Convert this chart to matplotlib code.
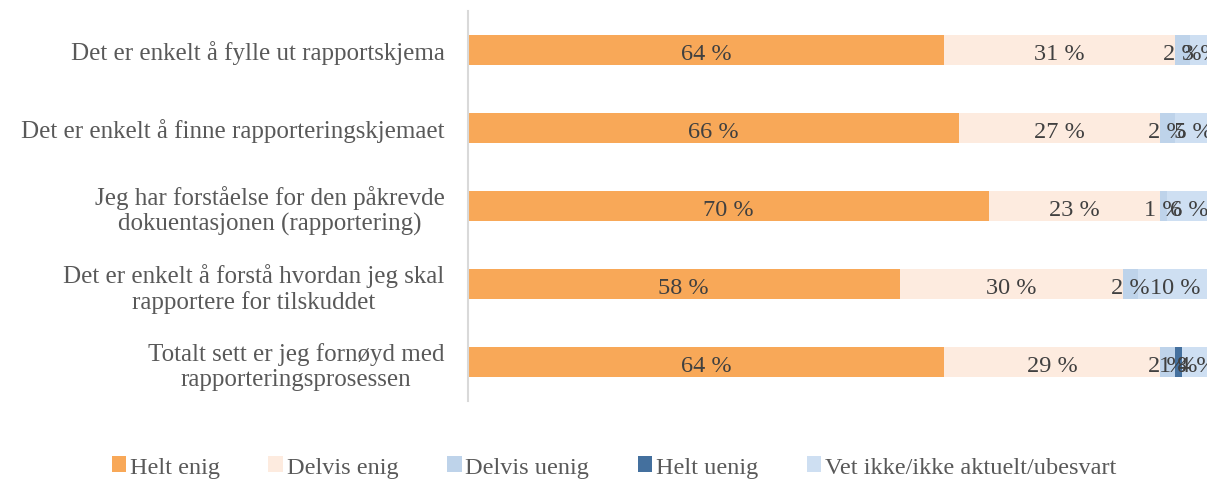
import matplotlib.pyplot as plt
import numpy as np

plt.rcParams['font.family'] = ['Liberation Serif', 'DejaVu Serif']

# data
categories = [
    "Det er enkelt å fylle ut rapportskjema",
    "Det er enkelt å finne rapporteringskjemaet",
    "Jeg har forståelse for den påkrevde\ndokuentasjonen (rapportering)",
    "Det er enkelt å forstå hvordan jeg skal\nrapportere for tilskuddet",
    "Totalt sett er jeg fornøyd med\nrapporteringsprosessen",
]
series = ["Helt enig", "Delvis enig", "Delvis uenig", "Helt uenig",
          "Vet ikke/ikke aktuelt/ubesvart"]
helt_enig = [64, 66, 70, 58, 64]
delvis_enig = [31, 27, 23, 30, 29]
delvis_uenig = [2, 2, 1, 2, 2]
helt_uenig = [0, 0, 0, 0, 1]
vet_ikke = [3, 5, 6, 10, 4]
values = [helt_enig, delvis_enig, delvis_uenig, helt_uenig, vet_ikke]
colors = ["#F8A858", "#FDEBDF", "#BED3EA", "#44709E", "#CEDFF2"]

txt = "#404040"
lbl = "#595959"

fig = plt.figure(figsize=(12.07, 4.81), dpi=100)
ax = fig.add_axes([468 / 1207, 1 - 402 / 481, 744 / 1207, 390 / 481])

y = np.arange(len(categories))
left = np.zeros(len(categories))
for name, vals, c in zip(series, values, colors):
    vals = np.array(vals, dtype=float)
    ax.barh(y, vals, left=left, height=0.39, color=c, label=name)
    for yi, l, v in zip(y, left, vals):
        if v > 0:
            ax.text(l + v / 2, yi + 0.04, f"{int(v)} %", ha="center", va="center",
                    fontsize=17.5, color=txt)
    left += vals

ax.set_xlim(0, 100)
ax.set_ylim(len(categories) - 0.5, -0.5)
ax.set_yticks(y)
ax.set_yticklabels(categories, fontsize=18, color=lbl, ha="right",
                   multialignment="center", linespacing=1.15)
ax.tick_params(axis="y", length=0, pad=17)
ax.set_xticks([])
for s in ["top", "right", "bottom"]:
    ax.spines[s].set_visible(False)
ax.spines["left"].set_color("#D9D9D9")
ax.spines["left"].set_linewidth(1.5)
ax.set_facecolor("none")

fig.legend(loc="center", bbox_to_anchor=(614 / 1207, 1 - 468 / 481), ncol=5,
           frameon=False, fontsize=17.5, handlelength=0.6, handleheight=0.6,
           handletextpad=0.15, columnspacing=2.0, labelcolor=lbl)

fig.savefig("out.png", dpi=100)
